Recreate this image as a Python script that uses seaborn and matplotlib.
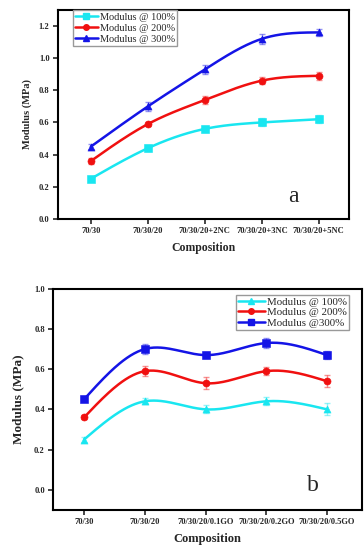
import numpy as np
import pandas as pd
import seaborn as sns
import matplotlib.pyplot as plt
from matplotlib.lines import Line2D

# panel a
comp_a = ['70/30', '70/30/20', '70/30/20+2NC', '70/30/20+3NC', '70/30/20+5NC']
a_100 = [0.25, 0.44, 0.56, 0.60, 0.62]
a_200 = [0.36, 0.59, 0.74, 0.86, 0.89]
a_300 = [0.45, 0.70, 0.93, 1.12, 1.16]
a_100_err = [0.012, 0.02, 0.02, 0.025, 0.025]
a_200_err = [0.02, 0.012, 0.025, 0.02, 0.025]
a_300_err = [0.015, 0.03, 0.03, 0.03, 0.02]

# panel b
comp_b = ['70/30', '70/30/20', '70/30/20/0.1GO', '70/30/20/0.2GO', '70/30/20/0.5GO']
b_100 = [0.25, 0.44, 0.40, 0.44, 0.40]
b_200 = [0.36, 0.59, 0.53, 0.59, 0.54]
b_300 = [0.45, 0.70, 0.67, 0.73, 0.67]
b_100_err = [0.01, 0.015, 0.02, 0.02, 0.03]
b_200_err = [0.01, 0.025, 0.03, 0.02, 0.03]
b_300_err = [0.01, 0.025, 0.015, 0.025, 0.02]


def spline(y, n=200):
    # natural cubic spline through the points, for a smooth line
    y = np.asarray(y, float)
    k = len(y)
    A = np.zeros((k, k))
    r = np.zeros(k)
    A[0, 0] = A[-1, -1] = 1
    for i in range(1, k - 1):
        A[i, i - 1], A[i, i], A[i, i + 1] = 1, 4, 1
        r[i] = 6 * (y[i + 1] - 2 * y[i] + y[i - 1])
    m = np.linalg.solve(A, r)
    xs = np.linspace(0, k - 1, n)
    out = []
    for t in xs:
        i = min(int(t), k - 2)
        u = t - i
        out.append((1 - u) * y[i] + u * y[i + 1]
                   + ((1 - u) ** 3 - (1 - u)) * m[i] / 6 + (u ** 3 - u) * m[i + 1] / 6)
    return xs, np.array(out)


def panel(ax, comp, series, letter, lx, ly):
    handles = []
    for vals, err, color, marker, label in series:
        xs, ys = spline(vals)
        sns.lineplot(x=xs, y=ys, ax=ax, color=color, lw=1.8, zorder=2)
        ax.errorbar(range(len(vals)), vals, yerr=err, fmt='none', ecolor=color,
                    alpha=0.45, elinewidth=1, capsize=2.5, zorder=2)
        sns.scatterplot(x=range(len(vals)), y=vals, ax=ax, color=color, marker=marker,
                        s=26, edgecolor=color, zorder=3)
        handles.append(Line2D([], [], color=color, lw=1.8, marker=marker, ms=4, label=label))
    ax.set_xticks(range(len(comp)))
    ax.set_xticklabels(comp, fontsize=6.1, fontweight='bold')
    ax.tick_params(axis='both', length=3.5, width=1.2, pad=2.5)
    for s in ax.spines.values():
        s.set_linewidth(1.5)
        s.set_color('black')
    ax.text(lx, ly, letter, transform=ax.transAxes, fontsize=17)
    return handles


sns.set_style('ticks')
plt.rcParams['font.family'] = ['Liberation Serif', 'DejaVu Serif']

fig = plt.figure(figsize=(3.64, 5.5), dpi=100)
ax1 = fig.add_axes([0.159, 0.602, 0.8, 0.38])
ax2 = fig.add_axes([0.146, 0.073, 0.849, 0.402])

h1 = panel(ax1, comp_a, [
    (a_100, a_100_err, '#19e6f0', 's', 'Modulus @ 100%'),
    (a_200, a_200_err, '#f01010', 'o', 'Modulus @ 200%'),
    (a_300, a_300_err, '#1414e6', '^', 'Modulus @ 300%'),
], 'a', 0.79, 0.08)
ax1.set_xlim(-0.58, 4.53)
ax1.set_ylim(0, 1.3)
yt1 = np.arange(0, 1.21, 0.2)
ax1.set_yticks(yt1)
ax1.set_yticklabels([f'{v:.1f}' for v in yt1], fontweight='bold', fontsize=6.1)
ax1.set_xlabel('Composition', fontsize=8.5, fontweight='bold', labelpad=5)
ax1.set_ylabel('Modulus (MPa)', fontsize=7.5, fontweight='bold', labelpad=5)
ax1.legend(handles=h1, loc='upper left', bbox_to_anchor=(0.05, 1.0), fontsize=7.4,
           frameon=True, fancybox=False, edgecolor='#999999', framealpha=1,
           borderpad=0.2, labelspacing=0.18, handlelength=2.2, handletextpad=0.2,
           borderaxespad=0.05)

h2 = panel(ax2, comp_b, [
    (b_100, b_100_err, '#19e6f0', '^', 'Modulus @ 100%'),
    (b_200, b_200_err, '#f01010', 'o', 'Modulus @ 200%'),
    (b_300, b_300_err, '#1414e6', 's', 'Modulus @300%'),
], 'b', 0.82, 0.086)
ax2.set_xlim(-0.51, 4.58)
ax2.set_ylim(-0.1, 1.0)
yt2 = np.arange(0, 1.01, 0.2)
ax2.set_yticks(yt2)
ax2.set_yticklabels([f'{v:.1f}' for v in yt2], fontweight='bold', fontsize=6.1)
ax2.set_xlabel('Composition', fontsize=9, fontweight='bold', labelpad=5)
ax2.set_ylabel('Modulus (MPa)', fontsize=9.5, fontweight='bold', labelpad=7)
ax2.legend(handles=h2, loc='upper right', bbox_to_anchor=(0.96, 0.975), fontsize=7.8,
           frameon=True, fancybox=False, edgecolor='#999999', framealpha=1,
           borderpad=0.2, labelspacing=0.1, handlelength=2.5, handletextpad=0.2,
           borderaxespad=0.05)

fig.savefig('out.png', dpi=100)
